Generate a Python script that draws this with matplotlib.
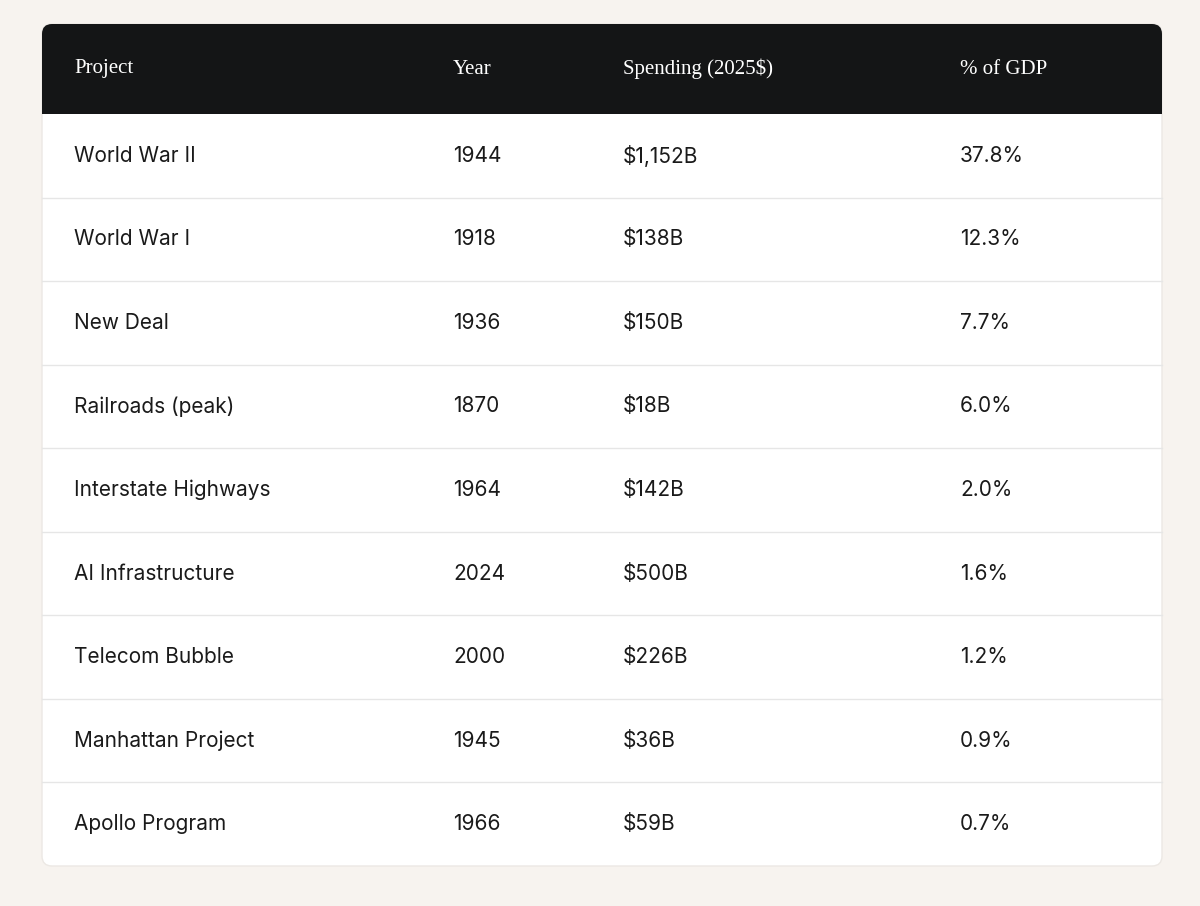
import matplotlib
matplotlib.use("Agg")
import matplotlib.pyplot as plt
from matplotlib.patches import FancyBboxPatch, Rectangle

headers = ["Project", "Year", "Spending (2025$)", "% of GDP"]
projects = ["World War II", "World War I", "New Deal", "Railroads (peak)", "Interstate Highways",
            "AI Infrastructure", "Telecom Bubble", "Manhattan Project", "Apollo Program"]
years = ["1944", "1918", "1936", "1870", "1964", "2024", "2000", "1945", "1966"]
spending = ["$1,152B", "$138B", "$150B", "$18B", "$142B", "$500B", "$226B", "$36B", "$59B"]
gdp = ["37.8%", "12.3%", "7.7%", "6.0%", "2.0%", "1.6%", "1.2%", "0.9%", "0.7%"]

W, H = 1200, 906
fig = plt.figure(figsize=(W/100, H/100), dpi=100, facecolor="#f7f3ef")
ax = fig.add_axes([0, 0, 1, 1])
ax.set_xlim(0, W); ax.set_ylim(H, 0); ax.axis("off")

L, R, T, B = 42, 1162, 24, 866
ax.add_patch(FancyBboxPatch((L, T), R-L, B-T, boxstyle="round,pad=0,rounding_size=10",
                            fc="white", ec="#ece8e4", lw=1))
hdr_h = 90
ax.add_patch(FancyBboxPatch((L, T), R-L, hdr_h, boxstyle="round,pad=0,rounding_size=10",
                            fc="#141516", ec="none"))
ax.add_patch(Rectangle((L, T+hdr_h-15), R-L, 15, fc="#141516", ec="none"))

cols_x = [74, 453, 623, 960]
for x, h in zip(cols_x, headers):
    ax.text(x, T+hdr_h/2, h, color="white", fontsize=15, family="Liberation Serif",
            va="center", ha="left")

row_h = (B - (T+hdr_h)) / len(projects)
for i, row in enumerate(zip(projects, years, spending, gdp)):
    y0 = T + hdr_h + i*row_h
    if i > 0:
        ax.plot([L, R], [y0, y0], color="#e6e6e6", lw=1)
    for x, v in zip(cols_x, row):
        ax.text(x, y0 + row_h/2, v, color="#1a1a1a", fontsize=15, family="Inter",
                va="center", ha="left")

fig.savefig("out.png", dpi=100, facecolor=fig.get_facecolor())
